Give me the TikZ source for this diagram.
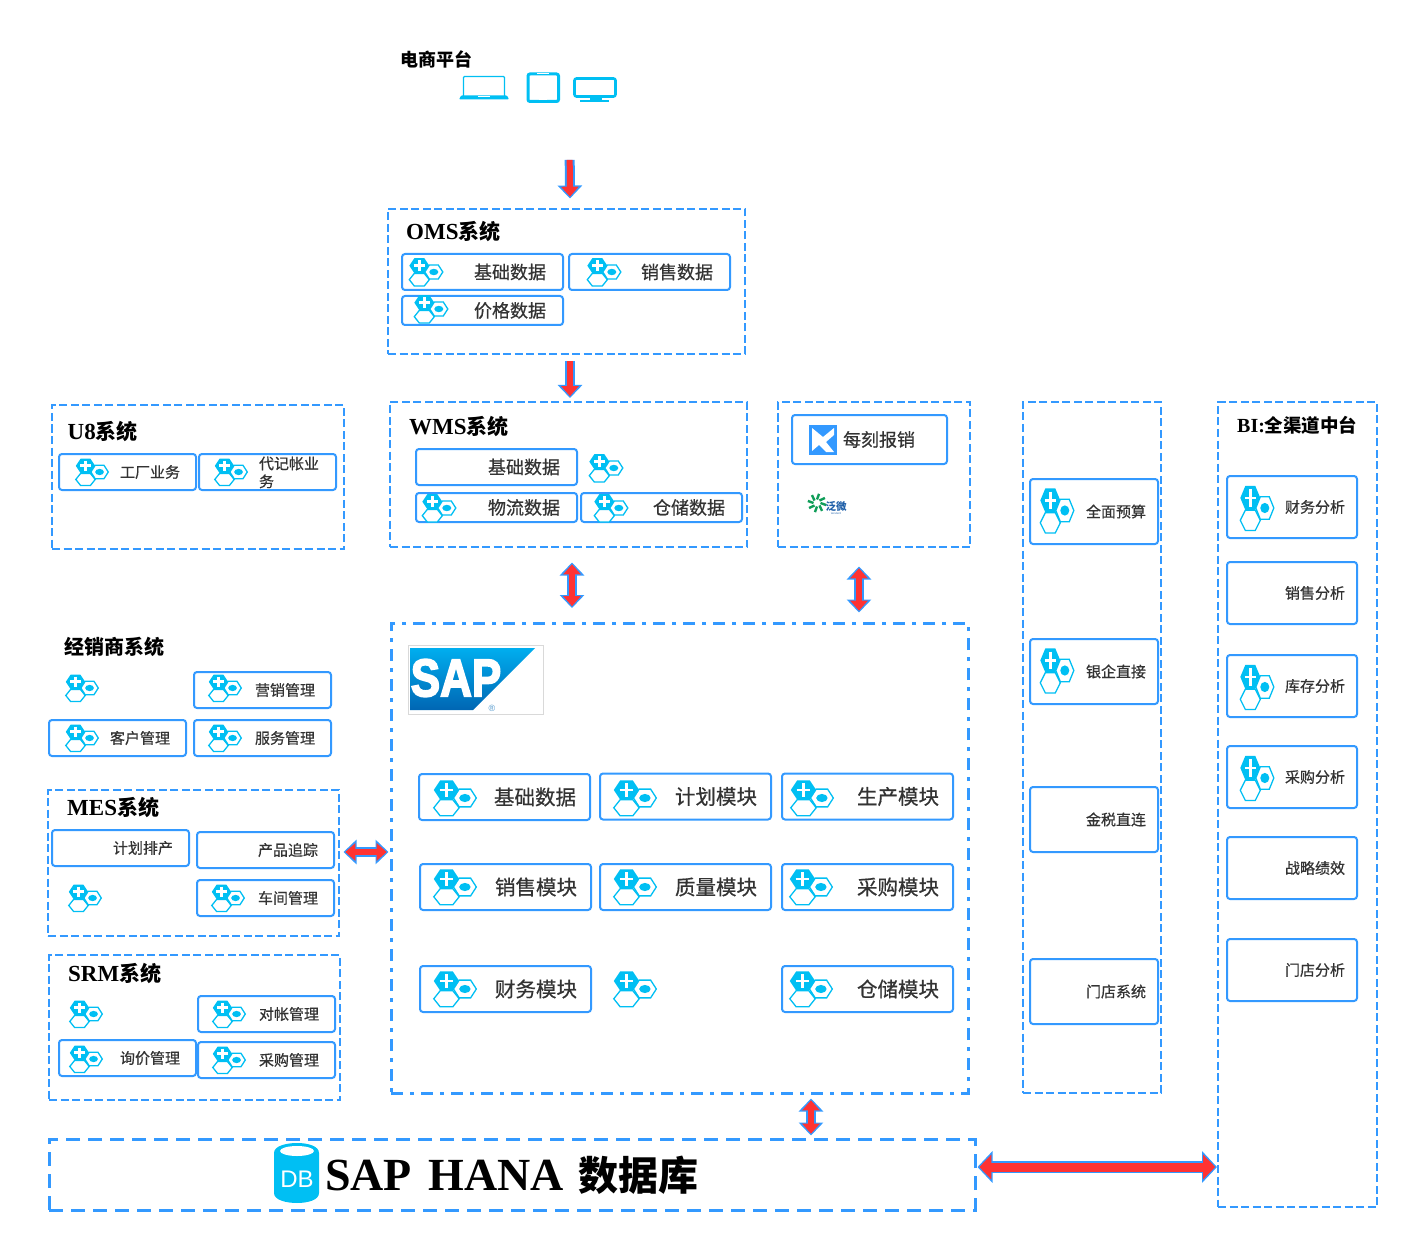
\documentclass[tikz,border=0pt]{standalone}
\usepackage{fontspec}
\setmainfont{Liberation Serif}
\newfontfamily\cjk{Noto Sans CJK SC}
\newfontfamily\cjkitem[FakeBold=0.6]{Noto Sans CJK SC}
\newfontfamily\logofont[BoldFeatures={FakeBold=3.5}]{Liberation Sans}
\usetikzlibrary{arrows.meta,calc}
\definecolor{lineblue}{HTML}{3399FF}
\definecolor{iconblue}{HTML}{00BFF3}
\definecolor{flowred}{HTML}{FF3333}
\definecolor{textgray}{HTML}{333333}
\definecolor{saptop}{HTML}{00AEEF}
\definecolor{sapbottom}{HTML}{0066B3}
\definecolor{weavergreen}{HTML}{0F9D58}
\definecolor{weaverblue}{HTML}{1F5FA8}
\newcommand\itemsize[1]{\cjkitem\fontsize{#1}{18}\selectfont}
\newcommand\ttl[2]{{\fontsize{23}{26}\selectfont\bfseries #1}{\cjk\fontsize{21}{26}\selectfont\bfseries #2}}

\begin{document}
\begin{tikzpicture}
[
x=1pt,y=-1pt,
outertip/.tip={Triangle[length=13pt,width=24pt]},
innertip/.tip={Triangle[length=10pt,width=17pt]},
outerbig/.tip={Triangle[length=15pt,width=31pt]},
innerbig/.tip={Triangle[length=12pt,width=24pt]},
flowone/.style={draw=flowred,line width=6pt,-innertip,shorten >=1.8pt,
            preaction={draw=lineblue,line width=10pt,-outertip,shorten >=0pt}},
flowtwo/.style={draw=flowred,line width=6pt,innertip-innertip,shorten >=1.8pt,shorten <=1.8pt,
            preaction={draw=lineblue,line width=10pt,outertip-outertip,shorten >=0pt,shorten <=0pt}},
flowbig/.style={draw=flowred,line width=9pt,innerbig-innerbig,shorten >=1.8pt,shorten <=1.8pt,
            preaction={draw=lineblue,line width=12pt,outerbig-outerbig,shorten >=0pt,shorten <=0pt}},
dashbox/.style 2 args={draw=lineblue,line width=2pt,dash pattern=on 8pt off 3.5pt,
            minimum width=#1pt,minimum height=#2pt,inner sep=0pt,outer sep=0pt},
item/.style n args={3}{draw=lineblue,line width=2pt,rounded corners=3pt,outer sep=0pt,
            minimum width=#1pt,minimum height=#2pt,inner ysep=0pt,inner xsep=#3pt,
            text width=\dimexpr #1pt-#3pt-#3pt\relax,align=right,text=textgray},
omsitem/.style={item={161}{#1}{17},font=\itemsize{18}},
unititem/.style={item={137}{36}{16},font=\itemsize{15}},
moditem/.style={item={171}{46}{14},font=\itemsize{20.5}},
rightitem/.style={item={128}{65}{12},font=\itemsize{15}},
biitem/.style={item={130}{62}{12},font=\itemsize{15}},
systitle/.style={anchor=west,inner sep=0pt},
hexicon/.pic={
  \fill[iconblue] (-16.7,-6.3) -- (-11.7,-13.8) -- (-1.7,-13.8) -- (3.3,-6.3) -- (-1.7,1.2) -- (-11.7,1.2) -- cycle;
  \draw[white,line width=2.8pt] (-12.2,-6.3) -- (-1.2,-6.3) (-6.7,-11.8) -- (-6.7,-0.8);
  \draw[iconblue,line width=1.3pt,fill=white] (-16.7,7.7) -- (-11.7,1.4) -- (-1.7,1.4) -- (3.3,7.7) -- (-1.7,14) -- (-11.7,14) -- cycle;
  \draw[iconblue,line width=1.3pt,fill=white] (-1.2,0) -- (3.3,-7) -- (12.3,-7) -- (16.8,0) -- (12.3,7) -- (3.3,7) -- cycle;
  \fill[iconblue] (7.8,0) ellipse [x radius=4.5,y radius=3.2];
},
]
\useasboundingbox (0,0) rectangle (1409,1241);

%Place the system frames
\node[dashbox={357}{145}] (oms) at (566.5,281.5) {};
\node[dashbox={357}{145}] (wms) at (568.5,474.5) {};
\node[dashbox={192}{145}] (expense) at (874,474.5) {};
\node[dashbox={292}{144}] (u8) at (198,477) {};
\node[dashbox={291}{146}] (mes) at (193.5,863) {};
\node[dashbox={291}{145}] (srm) at (194.5,1027.5) {};
\node[dashbox={138}{691}] (finance) at (1092,747.5) {};
\node[dashbox={159}{805}] (bi) at (1297.5,804.5) {};
\node[dashbox={577}{470},line width=3pt,dash pattern=on 12pt off 7pt on 4pt off 7pt] (sap) at (679.5,858) {};
\node[dashbox={926}{71},line width=3pt,dash pattern=on 14pt off 8pt] (hana) at (512,1174.5) {};

%Place the titles
\node[systitle,font=\cjk\bfseries\fontsize{18}{20}\selectfont] (shop) at (400.5,59) {电商平台};
\node[systitle] (omstitle) at (406,232) {\ttl{OMS}{系统}};
\node[systitle] (wmstitle) at (409,426) {\ttl{WMS}{系统}};
\node[systitle] (u8title) at (67.5,431) {\ttl{U8}{系统}};
\node[systitle,font=\cjk\bfseries\fontsize{20}{22}\selectfont] (dealertitle) at (64,647) {经销商系统};
\node[systitle] (mestitle) at (67,807) {\ttl{MES}{系统}};
\node[systitle] (srmtitle) at (68,973) {\ttl{SRM}{系统}};
\node[systitle] (bititle) at (1237,425) {{\fontsize{20}{22}\selectfont\bfseries BI:}{\cjk\fontsize{18.5}{22}\selectfont\bfseries 全渠道中台}};

%OMS and WMS
\node[omsitem=36] (omsbase) at (482.5,272) {基础数据};
\node[omsitem=36] (omssales) at (649.5,272) {销售数据};
\node[omsitem=29] (omsprice) at (482.5,310.5) {价格数据};
\node[omsitem=36] (wmsbase) at (496.5,467) {基础数据};
\node[omsitem=29] (wmsflow) at (496.5,507.5) {物流数据};
\node[omsitem=29] (wmsstore) at (661.5,507.5) {仓储数据};
\foreach \x/\y in {426/272,604/272,431/309,606/468,439/508,611/508}
  \pic at (\x,\y) {hexicon};

%Expense box and its two logos
\node[item={155}{49}{32},font=\itemsize{18}] (meike) at (869.5,439.5) {每刻报销};
\fill[lineblue] (809,425) rectangle (837,455);
\fill[white] (812,428) -- (823,437) -- (834,428) -- (834,435) -- (826,442) -- (834,452) -- (826,452) -- (819,445) -- (812,451) -- cycle;
\foreach \a in {0,45,...,315}
  \draw[weavergreen,line width=2.4pt] (817,503) ++(\a:3.5) -- ++(\a+20:6);
\node[font=\cjk\bfseries\fontsize{10.5}{11}\selectfont,text=weaverblue,inner sep=0pt] (weaver) at (836,506.5) {泛微};
\node[font=\fontsize{3.5}{4}\selectfont,text=weaverblue,inner sep=0pt] (weaverlatin) at (836,514) {weaver};

%U8 and the dealer, MES and SRM systems
\node[unititem] (factory) at (127.5,472) {工厂业务};
\node[unititem] (booking) at (267.5,472) {\smash{\raisebox{-4pt}{\parbox{61pt}{\raggedright 代记帐业\\务}}}};
\node[unititem] (marketing) at (262.5,690) {营销管理};
\node[unititem] (customer) at (117.5,738) {客户管理};
\node[unititem] (service) at (262.5,738) {服务管理};
\node[unititem] (planning) at (120.5,848) {计划排产};
\node[unititem] (tracing) at (265.5,850) {产品追踪};
\node[unititem] (workshop) at (265.5,898) {车间管理};
\node[unititem] (account) at (266.5,1014) {对帐管理};
\node[unititem] (inquiry) at (127.5,1058) {询价管理};
\node[unititem] (purchase) at (266.5,1060) {采购管理};
\foreach \x/\y in {92/472,231/472,82/688,225/688,82/738,225/738,85/898,228/898,86/1014,229/1014,86/1059,229/1060}
  \pic[scale=0.97] at (\x,\y) {hexicon};

%SAP logo and modules
\draw[black!15] (408.5,645.5) rectangle (543.5,714.5);
\shade[top color=saptop,bottom color=sapbottom] (410,648) -- (535,648) -- (473,710) -- (410,710) -- cycle;
\node[font=\logofont\bfseries\fontsize{44}{44}\selectfont,text=white,inner sep=0pt,yscale=1.2,transform shape] (saptext) at (456,678) {SAP};
\node[font=\logofont\fontsize{9}{9}\selectfont,text=sapbottom!70,inner sep=0pt] (sapreg) at (492,708) {®};
\node[moditem] (mbase) at (504.5,797) {基础数据};
\node[moditem] (mplan) at (685.5,796.5) {计划模块};
\node[moditem] (mmake) at (867.5,796.5) {生产模块};
\node[moditem] (msales) at (505.5,887) {销售模块};
\node[moditem] (mquality) at (685.5,887) {质量模块};
\node[moditem] (mbuy) at (867.5,887) {采购模块};
\node[moditem] (mfinance) at (505.5,989) {财务模块};
\node[moditem] (mstore) at (867.5,989) {仓储模块};
\foreach \x/\y in {455/798,635/798,812/798,455/887,635/887,811/887,455/989,635/989,811/989}
  \pic[scale=1.27] at (\x,\y) {hexicon};

%Finance column and BI column
\node[rightitem] (budget) at (1094,511.5) {全面预算};
\node[rightitem] (bank) at (1094,671.5) {银企直接};
\node[rightitem] (tax) at (1094,819.5) {金税直连};
\node[rightitem] (store) at (1094,991.5) {门店系统};
\node[biitem] (bifin) at (1292,507) {财务分析};
\node[biitem] (bisales) at (1292,593) {销售分析};
\node[biitem] (bistock) at (1292,686) {库存分析};
\node[biitem] (bibuy) at (1292,777) {采购分析};
\node[biitem] (bistrategy) at (1292,868) {战略绩效};
\node[biitem] (bistore) at (1292,970) {门店分析};
\foreach \x/\y in {1057/510.5,1057/670.5,1257/508,1257/687,1257/778}
  \pic[xscale=1,yscale=1.6] at (\x,\y) {hexicon};

%Device icons of the shop
\draw[iconblue,line width=1.4pt,rounded corners=1pt] (463.5,96) -- (463.5,76.5) -- (504.5,76.5) -- (504.5,96);
\fill[iconblue,rounded corners=1pt] (461,95.5) -- (507,95.5) -- (509,99.5) -- (459,99.5) -- cycle;
\fill[white] (478,96.5) rectangle (490,97.5);
\draw[iconblue,line width=3pt,rounded corners=2pt] (528,74) rectangle (558.5,101.5);
\fill[white] (537,73.5) rectangle (549,74.5);
\fill[white] (539,99.5) rectangle (547,100.5);
\draw[iconblue,line width=2.6pt,rounded corners=2pt] (574.5,78.5) rectangle (615.5,96.5);
\fill[iconblue] (590,97) rectangle (602,100);
\fill[iconblue] (580,100) rectangle (609,102);

%HANA title with the cylinder
\fill[iconblue] (274,1153) .. controls (274,1146) and (286,1143) .. (297,1143) .. controls (308,1143) and (319,1146) .. (319,1153)
  -- (319,1193) .. controls (319,1200) and (308,1203) .. (297,1203) .. controls (286,1203) and (274,1200) .. (274,1193) -- cycle;
\fill[white] (297,1151) ellipse [x radius=17,y radius=5];
\node[font=\logofont\fontsize{24}{24}\selectfont,text=white,inner sep=0pt] (dblabel) at (297,1179) {DB};
\node[systitle] (hanatitle) at (325,1175) {{\fontsize{46}{50}\selectfont\bfseries SAP\hspace{5pt} HANA\hspace{3pt} }{\cjk\fontsize{40}{50}\selectfont\bfseries 数据库}};

%Draw the connections
\draw[flowone] ($(shop.south)+(133,92)$) -- ($(oms.north)+(3.5,-10.5)$);
\draw[flowone] ($(oms.south)+(3.5,7)$) -- ($(wms.north)+(1.5,-4)$);
\draw[flowtwo] ($(wms.south)+(3.5,15.5)$) -- ($(sap.north)+(-107.5,-15)$);
\draw[flowtwo] ($(expense.south)+(-15,19.5)$) -- ($(sap.north)+(179.5,-10.5)$);
\draw[flowtwo] ($(mes.east)+(4.5,-11)$) -- ($(sap.west)+(-2.5,-6)$);
\draw[flowtwo] ($(sap.south)+(131.5,5.5)$) -- ($(hana.north)+(299,-3.5)$);
\draw[flowbig] ($(hana.east)+(2.5,-7.5)$) -- ($(bi.west)+(-1,362.5)$);
\end{tikzpicture}
\end{document}
